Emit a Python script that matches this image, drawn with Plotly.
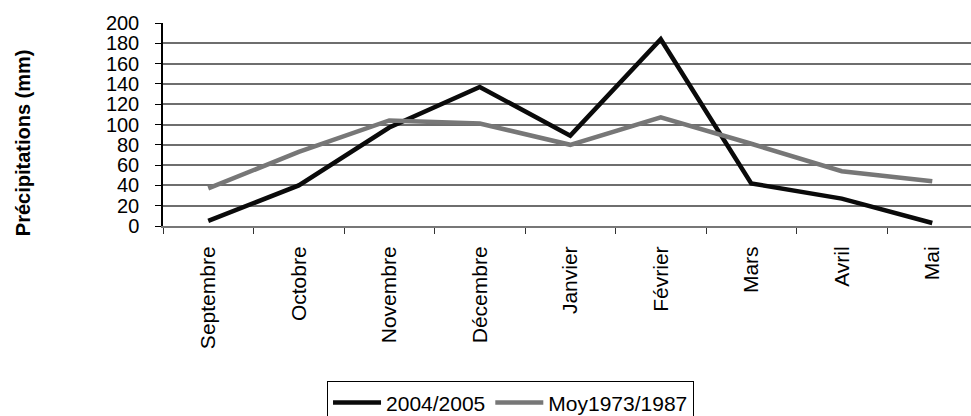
import plotly.graph_objects as go

months = ["Septembre", "Octobre", "Novembre", "Décembre", "Janvier",
          "Février", "Mars", "Avril", "Mai"]
y_2004_2005 = [5, 40, 97, 137, 89, 184, 42, 27, 3]
y_moy_1973_1987 = [37, 73, 104, 101, 80, 107, 81, 54, 44]
y_ticks = list(range(0, 201, 20))

FONT = "Liberation Sans, Arial, Helvetica, sans-serif"

fig = go.Figure()
fig.add_trace(go.Scatter(x=months, y=y_2004_2005, mode="lines", name="2004/2005",
                         line=dict(color="#0a0a0a", width=4.5)))
fig.add_trace(go.Scatter(x=months, y=y_moy_1973_1987, mode="lines", name="Moy1973/1987",
                         line=dict(color="#777777", width=4.5)))

fig.update_layout(
    width=971, height=416,
    margin=dict(l=163, r=0, t=23, b=190, autoexpand=False),
    paper_bgcolor="white", plot_bgcolor="white",
    font=dict(family=FONT, size=20, color="black"),
    showlegend=True,
    legend=dict(orientation="h", x=0.203, y=-0.765, xanchor="left", yanchor="top",
                bordercolor="black", borderwidth=1, font=dict(size=21),
                itemwidth=48, tracegroupgap=0),
    xaxis=dict(type="category", range=[-0.5, 8.428], tickangle=-90,
               showgrid=False, showline=True, linecolor="#777777", linewidth=2,
               ticks="outside", tickson="boundaries", ticklen=6, tickcolor="#333333",
               tickfont=dict(size=21), ticklabelstandoff=10, zeroline=False),
    yaxis=dict(range=[0, 200], tickvals=y_ticks, showgrid=True, gridcolor="#6e6e6e",
               gridwidth=1.6, showline=True, linecolor="black", linewidth=1.5,
               ticks="outside", ticklen=6, tickcolor="black", zeroline=False,
               tickfont=dict(size=20), ticklabelstandoff=12),
    annotations=[dict(text="<b>Précipitations (mm)</b>", xref="paper", yref="paper",
                      x=-0.173, y=0.409, xanchor="center", yanchor="middle",
                      textangle=-90, showarrow=False, font=dict(size=20))],
)

fig.write_html("out.html", config={"displayModeBar": False},
               post_script="document.body.style.margin='0';document.body.style.overflow='hidden';")
